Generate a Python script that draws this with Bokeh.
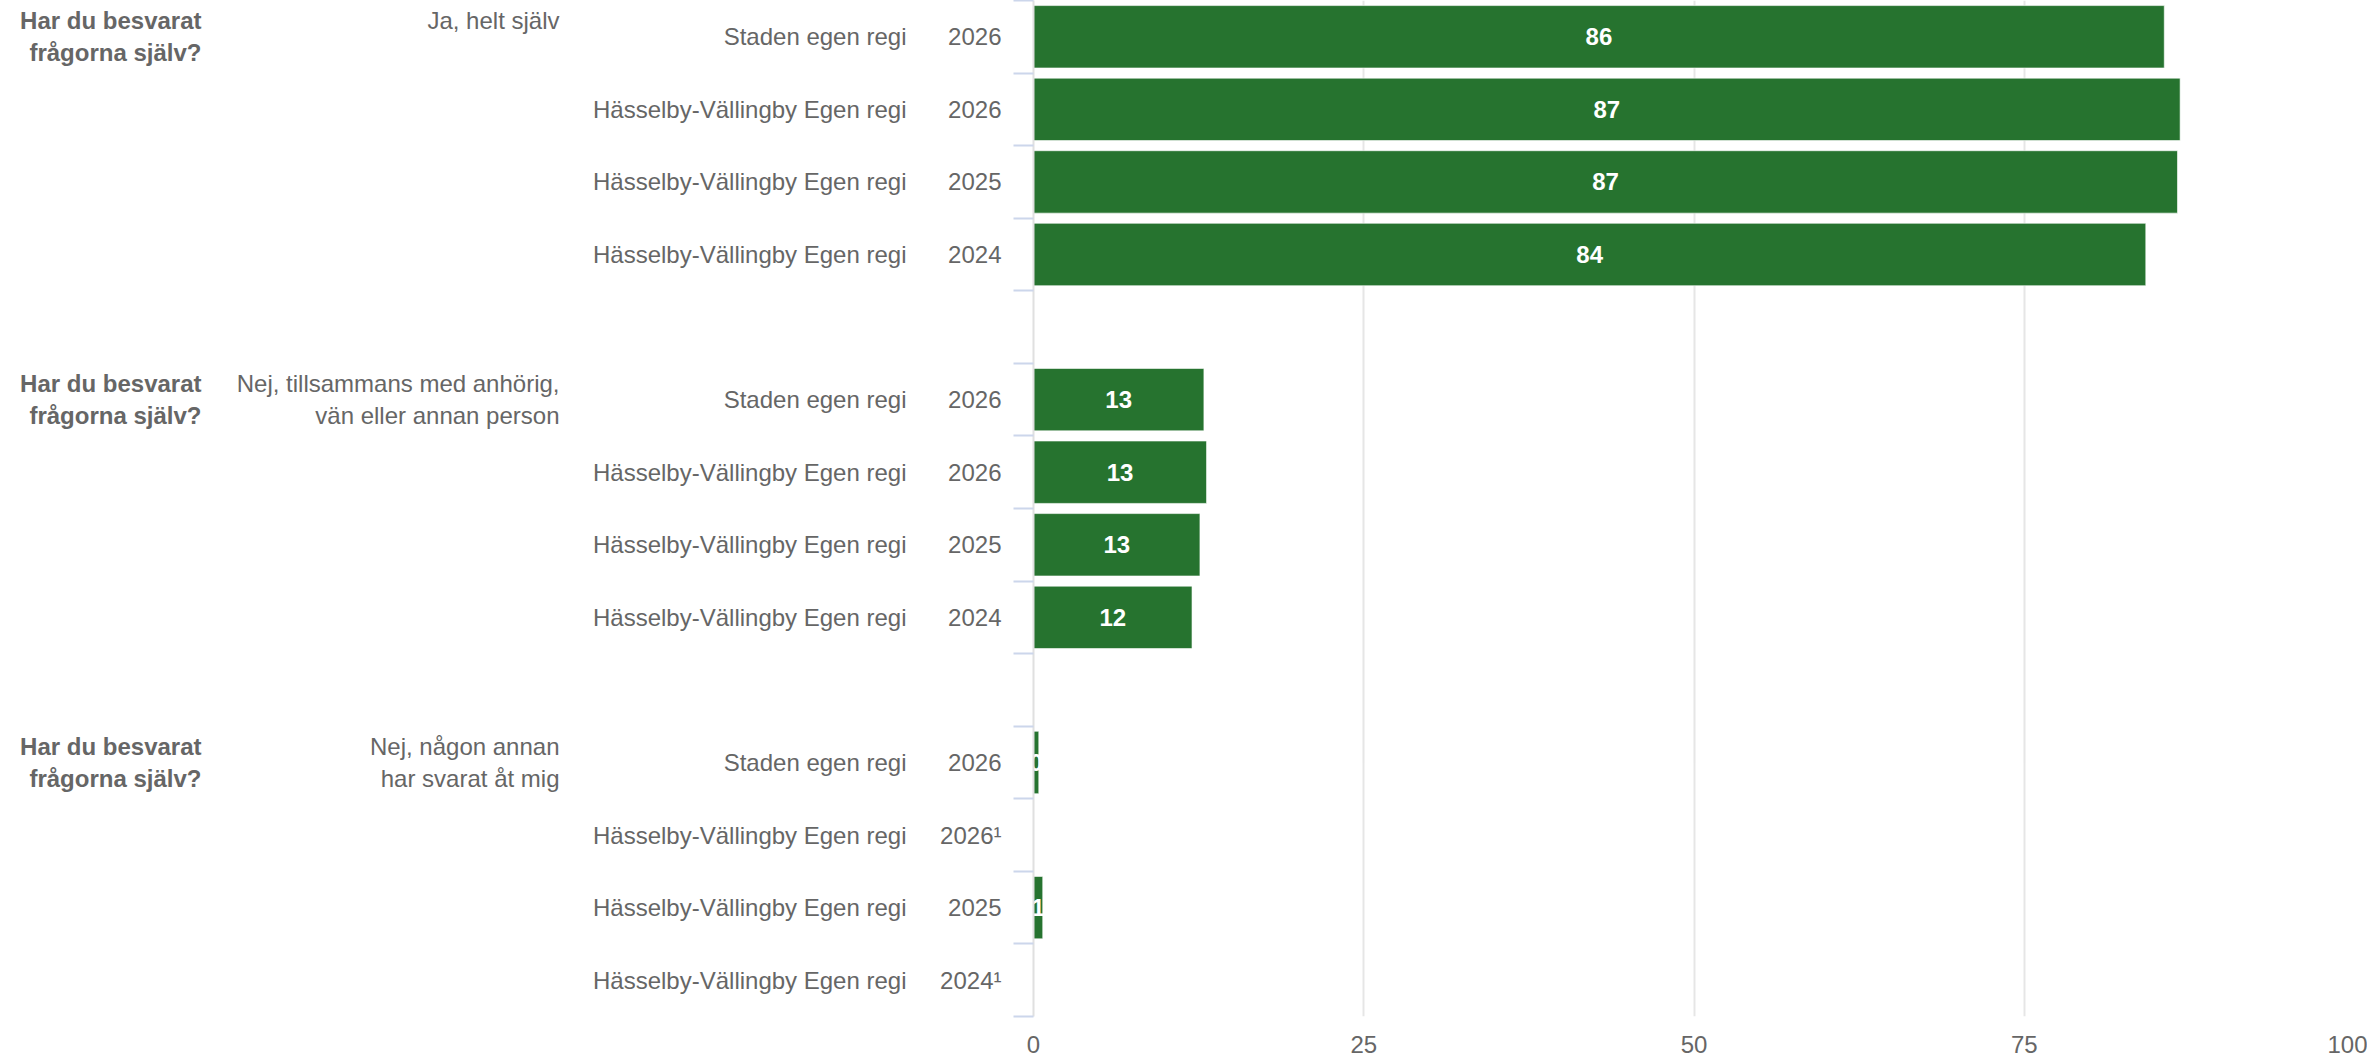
from bokeh.plotting import figure
from bokeh.models import Range1d, LinearAxis, FixedTicker, ColumnDataSource
from bokeh.core.properties import value
from bokeh.embed import file_html
from bokeh.resources import INLINE

# ---------------- data ----------------
question = "Har du besvarat\nfrågorna själv?"
answers = [
    "Ja, helt själv",
    "Nej, tillsammans med anhörig,\nvän eller annan person",
    "Nej, någon annan\nhar svarat åt mig",
]
units = [
    "Staden egen regi",
    "Hässelby-Vällingby Egen regi",
    "Hässelby-Vällingby Egen regi",
    "Hässelby-Vällingby Egen regi",
]
years = ["2026", "2026", "2025", "2024"]
values_ja = [85.6, 86.8, 86.6, 84.2]
values_tillsammans = [12.9, 13.1, 12.6, 12.0]
values_annan = [0.4, None, 0.7, None]
footnote = "¹"
x_ticks = [0, 25, 50, 75, 100]

# ---------------- layout helpers ----------------
series = [values_ja, values_tillsammans, values_annan]
rows_per_group = len(units) + 1          # one empty spacer row between groups
n_rows = rows_per_group * len(series) - 1

label_ticks, year_over, unit_over = [], {}, {}
group_ticks, answer_over, question_over = [], {}, {}
bar_y, bar_v, bar_mid, bar_txt = [], [], [], []
for g, vals in enumerate(series):
    first = g * rows_per_group + 0.5
    group_ticks.append(first)
    lines = answers[g].split("\n")
    answer_over[first] = answers[g] + "\n " * (2 - len(lines))
    question_over[first] = question
    for i, v in enumerate(vals):
        c = g * rows_per_group + i + 0.5
        label_ticks.append(c)
        year_over[c] = years[i] + ("" if v is not None else footnote)
        unit_over[c] = units[i]
        if v is not None:
            bar_y.append(c)
            bar_v.append(v)
            bar_mid.append(v / 2)
            bar_txt.append(str(int(round(v))))

src = ColumnDataSource(dict(y=bar_y, v=bar_v, mid=bar_mid, txt=bar_txt))

FONT = "Liberation Sans"
GRAY = "#666666"

p = figure(
    width=2367, height=1057,
    x_range=Range1d(0, 100), y_range=Range1d(n_rows, 0),
    y_axis_type=None,
    output_backend="svg", toolbar_location=None,
    min_border_left=1033, min_border_right=13,
    min_border_top=0, min_border_bottom=41,
)
p.outline_line_color = None
p.background_fill_color = "white"

# x axis / grid
p.xaxis.ticker = FixedTicker(ticks=x_ticks)
p.xaxis.axis_line_color = None
p.xaxis.major_tick_line_color = None
p.xaxis.minor_tick_line_color = None
p.xaxis.major_label_text_font = FONT
p.xaxis.major_label_text_font_size = "24px"
p.xaxis.major_label_text_color = GRAY
p.xaxis.major_label_standoff = 13
p.xgrid.ticker = FixedTicker(ticks=x_ticks)
p.xgrid.grid_line_color = "#e6e6e6"
p.xgrid.grid_line_width = 2


def side_axis(ticks, overrides, standoff, bold=False, minor=None, line=False):
    ax = LinearAxis(
        ticker=FixedTicker(ticks=ticks, minor_ticks=minor or []),
        major_label_overrides=overrides,
        major_label_standoff=standoff,
        major_label_text_font=FONT,
        major_label_text_font_size="24px",
        major_label_text_color=GRAY,
        major_label_text_font_style="bold" if bold else "normal",
        major_tick_line_color=None, major_tick_out=0, major_tick_in=0,
    )
    if minor:
        ax.minor_tick_line_color = "#ccd6eb"
        ax.minor_tick_line_width = 2
        ax.minor_tick_out = 20
        ax.minor_tick_in = 0
    else:
        ax.minor_tick_line_color = None
    if line:
        ax.axis_line_color = "#e0e0e0"
        ax.axis_line_width = 2
    else:
        ax.axis_line_color = None
    return ax


p.add_layout(side_axis(label_ticks, year_over, 12,
                       minor=list(range(n_rows + 1)), line=True), "left")
p.add_layout(side_axis(label_ticks, unit_over, 31), "left")
p.add_layout(side_axis(group_ticks, answer_over, 30), "left")
p.add_layout(side_axis(group_ticks, question_over, 32, bold=True), "left")

# bars
p.hbar(y="y", left=0, right="v", height=0.86, source=src,
       fill_color="#26732f", line_color="#ffffff", line_width=1, line_alpha=0.6)

# value labels
p.text(x="mid", y="y", text="txt", source=src,
       text_align="center", text_baseline="middle",
       text_color="white", text_font=value(FONT),
       text_font_size="24px", text_font_style="bold")

open("out.html", "w").write(file_html(p, INLINE))
